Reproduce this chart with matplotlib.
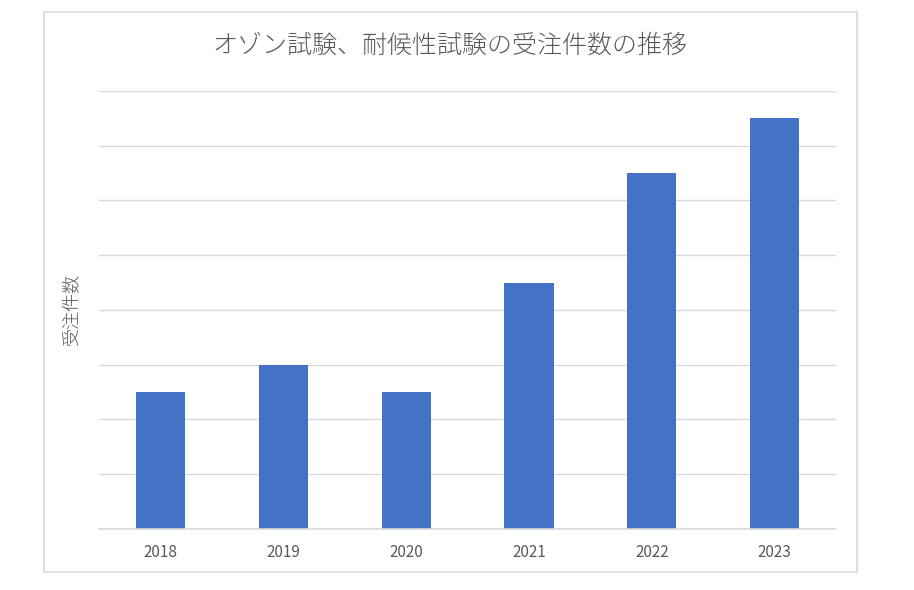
import matplotlib.pyplot as plt
from matplotlib.patches import Rectangle

plt.rcParams['font.family'] = ['Noto Sans CJK JP', 'DejaVu Sans']

years = ['2018', '2019', '2020', '2021', '2022', '2023']
orders = [2.5, 3.0, 2.5, 4.5, 6.5, 7.5]

fig = plt.figure(figsize=(9.14, 5.90), dpi=100)
ax = fig.add_axes([0.1083, 0.1034, 0.8064, 0.7424])

# outer chart border
fig.patches.append(Rectangle((0.048, 0.0305), 0.8895, 0.949, transform=fig.transFigure,
                             fill=False, edgecolor='#D9D9D9', linewidth=1.2))

x = range(len(years))
ax.bar(x, orders, width=0.4, color='#4472C4', zorder=3)
ax.set_xlim(-0.5, len(years) - 0.5)
ax.set_ylim(0, 8)
ax.set_yticks(range(0, 9))
ax.set_yticklabels([])
ax.grid(axis='y', color='#D9D9D9', linewidth=1, zorder=0)
ax.axhline(0, color='#D9D9D9', linewidth=1.2, clip_on=False, zorder=4)
ax.set_xticks(list(x))
ax.set_xticklabels(years, fontsize=11, color='#595959')
ax.tick_params(axis='both', length=0)
ax.tick_params(axis='x', pad=11)
for s in ax.spines.values():
    s.set_visible(False)

fig.text(0.4925, 0.922, 'オゾン試験、耐候性試験の受注件数の推移', ha='center', va='center',
         fontsize=18, fontweight='light', color='#595959')
fig.text(0.079, 0.476, '受注件数', ha='center', va='center', rotation=90,
         fontsize=13, fontweight='light', color='#595959')

fig.savefig('out.png', dpi=100)
